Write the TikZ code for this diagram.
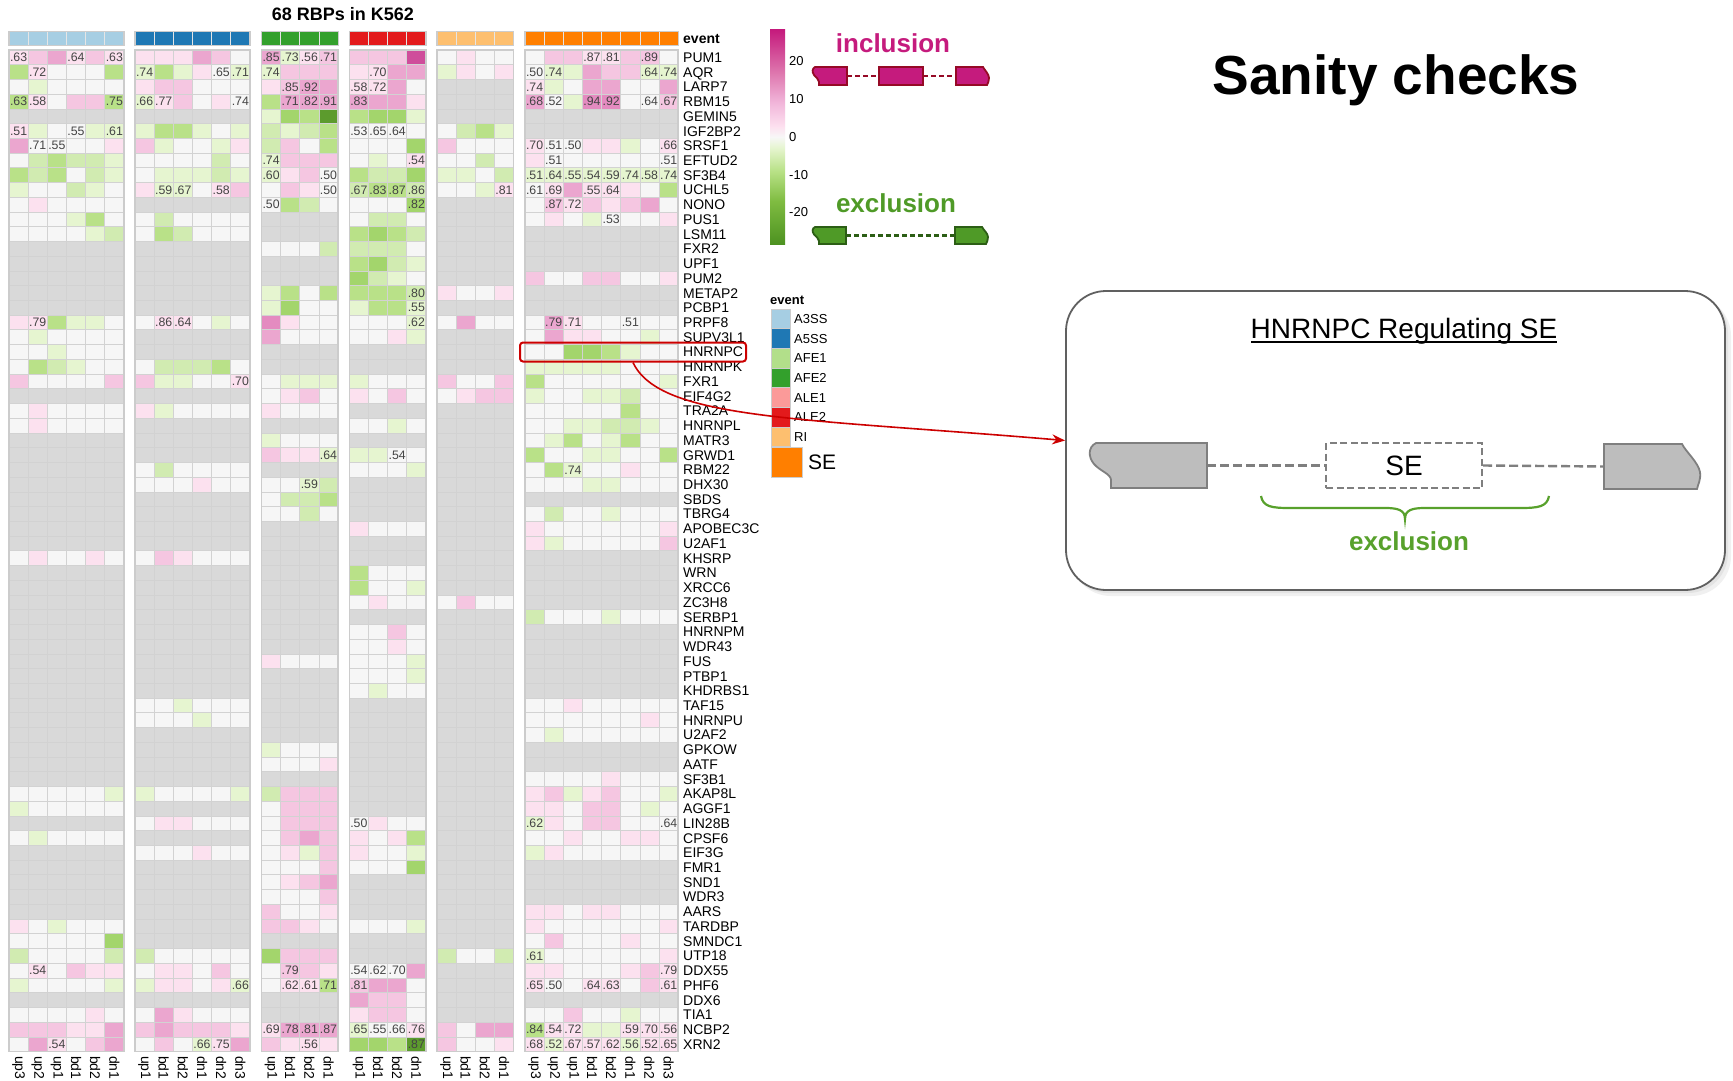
\documentclass[tikz,border=0pt]{standalone}
\usepackage{fontspec}
\setmainfont{Liberation Sans}
\usetikzlibrary{arrows.meta}

\definecolor{hmg}{HTML}{D9D9D9}
\definecolor{hmw}{HTML}{F6F6F6}
\definecolor{hma}{HTML}{FCE1EF}
\definecolor{hmb}{HTML}{F5C6E1}
\definecolor{hmc}{HTML}{EBA6CF}
\definecolor{hmC}{HTML}{E48BC0}
\definecolor{hmd}{HTML}{CF4D9B}
\definecolor{hme}{HTML}{E6F5D0}
\definecolor{hmf}{HTML}{D1EBB1}
\definecolor{hmh}{HTML}{B9E188}
\definecolor{hmk}{HTML}{A3D56C}
\definecolor{hmm}{HTML}{5C9B2D}
\definecolor{hmline}{HTML}{D2D2D2}
\definecolor{hmframe}{HTML}{CCCCCC}
\definecolor{numgray}{HTML}{444444}
\definecolor{cA3SS}{HTML}{A6CEE3}
\definecolor{cA5SS}{HTML}{1F78B4}
\definecolor{cAFE1}{HTML}{B2DF8A}
\definecolor{cAFE2}{HTML}{33A02C}
\definecolor{cALE1}{HTML}{FB9A99}
\definecolor{cALE2}{HTML}{E31A1C}
\definecolor{cRI}{HTML}{FDBF6F}
\definecolor{cSE}{HTML}{FF7F00}
\definecolor{incl}{HTML}{C51B7D}
\definecolor{incldark}{HTML}{960A26}
\definecolor{excl}{HTML}{4F9A27}
\definecolor{excldark}{HTML}{2C5E15}
\definecolor{exgreen}{HTML}{58A12C}
\definecolor{arrowred}{HTML}{CC0000}
\definecolor{exongray}{HTML}{BDBDBD}
\definecolor{exonline}{HTML}{7F7F7F}
\definecolor{pg0}{HTML}{4D9221}
\definecolor{pg1}{HTML}{7FBC41}
\definecolor{pg2}{HTML}{B8E186}
\definecolor{pg3}{HTML}{E6F5D0}
\definecolor{pg4}{HTML}{F7F7F7}
\definecolor{pg5}{HTML}{FDE0EF}
\definecolor{pg6}{HTML}{F1B6DA}
\definecolor{pg7}{HTML}{DE77AE}
\definecolor{pg8}{HTML}{C51B7D}
\pgfdeclareverticalshading{piyg}{100bp}{color(0bp)=(pg0); color(25bp)=(pg0); color(35bp)=(pg1); color(42bp)=(pg2); color(47.5bp)=(pg3); color(50bp)=(pg4); color(52.5bp)=(pg5); color(58bp)=(pg6); color(65bp)=(pg7); color(75bp)=(pg8); color(100bp)=(pg8)}

\newcommand\hmCW{19.15}
\newcommand\hmRH{14.73}
\newcommand\hmgrey[2]{%
  \foreach \rr in {0,...,67}{\foreach \kk in {1,...,#2}{%
    \path[fill=hmg, cellstyle] ({#1+(\kk-1)*\hmCW},{50+\rr*\hmRH}) rectangle ++(\hmCW,\hmRH);}}}
\newcommand\hmrow[3]{%
  \foreach \cc [count=\kk from 0] in {#3}{%
    \path[fill=hm\cc, cellstyle] ({#1+\kk*\hmCW},{50+#2*\hmRH}) rectangle ++(\hmCW,\hmRH);}}
\newcommand\hmframe[2]{%
  \draw[hmframe, line width=1.5pt] (#1,50) rectangle ({#1+#2*\hmCW},{50+68*\hmRH});}
\newcommand\hmheader[3]{%
  \foreach \kk in {1,...,#2}{%
    \path[fill=#3, draw=white!80!gray, line width=0.8pt] ({#1+(\kk-1)*\hmCW},31.5) rectangle ++(\hmCW,14.2);}
  \draw[hmframe, line width=1.2pt] (#1,31.5) rectangle ({#1+#2*\hmCW},45.7);}
\newcommand\hmcols[2]{%
  \foreach \tt [count=\kk from 0] in {#2}{%
    \node[collab] at ({#1+(\kk+0.5)*\hmCW},1056) {\tt};}}

\begin{document}
\begin{tikzpicture}[x=1pt,y=-1pt,
  cellstyle/.style={draw=hmline, line width=0.8pt},
  rowlab/.style={anchor=base west, inner sep=0pt, font=\fontsize{14}{16}\selectfont},
  collab/.style={anchor=west, rotate=-90, inner sep=0pt, font=\fontsize{14}{16}\selectfont},
  numlab/.style={anchor=base, inner sep=0pt, text=numgray, font=\fontsize{12.3}{13}\selectfont},
  legtxt/.style={anchor=west, inner sep=0pt, font=\fontsize{13}{15}\selectfont},
  swatch/.style={draw=hmframe, line width=1pt},
  exonshape/.style={fill=exongray, draw=exonline, line width=1.8pt},
  graydash/.style={draw=exonline, line width=2.4pt, dash pattern=on 9pt off 4pt},
]
\fill[white] (0,0) rectangle (1733,1081);
\useasboundingbox (0,0) rectangle (1733,1081);

% ---------------- title
\node[font=\bfseries\fontsize{18}{20}\selectfont, inner sep=0pt] (hmtitle) at (343,14) {68 RBPs in K562};

% ---------------- grey backgrounds
\hmgrey{9}{6}
\hmgrey{135}{6}
\hmgrey{261.5}{4}
\hmgrey{349.3}{4}
\hmgrey{437}{4}
\hmgrey{525}{8}

% ---------------- block 1 (A3SS)
\hmrow{9}{0}{a,b,c,a,b,a}
\hmrow{9}{1}{h,a,w,w,w,h}
\hmrow{9}{2}{w,e,w,w,w,w}
\hmrow{9}{3}{h,a,w,b,b,h}
\hmrow{9}{5}{a,e,w,w,e,e}
\hmrow{9}{6}{c,w,w,w,w,a}
\hmrow{9}{7}{w,f,h,f,f,e}
\hmrow{9}{8}{h,f,h,w,f,e}
\hmrow{9}{9}{e,w,w,f,e,w}
\hmrow{9}{10}{w,a,w,w,w,w}
\hmrow{9}{11}{w,w,w,e,h,w}
\hmrow{9}{12}{w,w,w,w,e,f}
\hmrow{9}{18}{a,a,h,e,e,w}
\hmrow{9}{19}{w,e,w,w,w,w}
\hmrow{9}{20}{w,w,e,w,w,w}
\hmrow{9}{21}{w,h,f,e,w,w}
\hmrow{9}{22}{b,w,w,w,w,b}
\hmrow{9}{24}{w,a,w,w,w,w}
\hmrow{9}{25}{w,a,w,w,w,w}
\hmrow{9}{34}{w,a,w,w,a,w}
\hmrow{9}{50}{w,w,w,w,w,e}
\hmrow{9}{51}{e,w,w,w,w,w}
\hmrow{9}{53}{w,e,w,w,w,w}
\hmrow{9}{59}{a,w,e,w,w,w}
\hmrow{9}{60}{w,w,w,w,w,k}
\hmrow{9}{61}{f,w,w,w,w,f}
\hmrow{9}{62}{w,a,w,b,a,a}
\hmrow{9}{63}{e,w,w,w,w,e}
\hmrow{9}{65}{w,w,w,w,a,w}
\hmrow{9}{66}{b,b,b,a,a,c}
\hmrow{9}{67}{w,c,a,w,b,c}

% ---------------- block 2 (A5SS)
\hmrow{135}{0}{a,a,a,c,b,w}
\hmrow{135}{1}{e,h,e,a,w,e}
\hmrow{135}{2}{a,b,b,w,w,w}
\hmrow{135}{3}{e,a,b,w,a,w}
\hmrow{135}{5}{e,h,h,e,w,e}
\hmrow{135}{6}{b,e,w,w,e,a}
\hmrow{135}{7}{w,w,w,w,f,w}
\hmrow{135}{8}{w,e,e,e,f,e}
\hmrow{135}{9}{a,e,e,w,a,b}
\hmrow{135}{11}{w,f,w,w,w,w}
\hmrow{135}{12}{w,h,f,w,w,w}
\hmrow{135}{18}{w,a,a,w,e,w}
\hmrow{135}{21}{w,f,f,f,h,w}
\hmrow{135}{22}{b,e,e,w,w,a}
\hmrow{135}{24}{a,e,w,w,w,w}
\hmrow{135}{28}{w,f,w,w,w,w}
\hmrow{135}{29}{w,w,w,a,w,w}
\hmrow{135}{34}{w,b,a,w,w,w}
\hmrow{135}{44}{w,w,e,w,w,w}
\hmrow{135}{45}{w,w,w,e,w,w}
\hmrow{135}{50}{e,w,w,w,w,e}
\hmrow{135}{52}{w,a,a,w,w,w}
\hmrow{135}{54}{w,w,w,a,w,w}
\hmrow{135}{61}{f,w,w,w,w,w}
\hmrow{135}{62}{w,a,a,w,b,w}
\hmrow{135}{63}{e,a,a,w,a,e}
\hmrow{135}{65}{w,c,a,w,w,w}
\hmrow{135}{66}{b,c,b,b,b,a}
\hmrow{135}{67}{w,b,w,e,a,c}

% ---------------- block 3 (AFE2)
\hmrow{261.5}{0}{c,e,a,b}
\hmrow{261.5}{1}{e,b,b,b}
\hmrow{261.5}{2}{a,b,c,c}
\hmrow{261.5}{3}{h,c,c,c}
\hmrow{261.5}{4}{e,k,h,m}
\hmrow{261.5}{5}{f,e,f,h}
\hmrow{261.5}{6}{f,b,w,h}
\hmrow{261.5}{7}{e,b,b,b}
\hmrow{261.5}{8}{e,a,b,w}
\hmrow{261.5}{9}{w,b,a,w}
\hmrow{261.5}{10}{w,h,f,w}
\hmrow{261.5}{13}{w,w,w,f}
\hmrow{261.5}{16}{e,h,w,h}
\hmrow{261.5}{17}{e,k,w,w}
\hmrow{261.5}{18}{C,a,w,w}
\hmrow{261.5}{19}{c,w,w,w}
\hmrow{261.5}{22}{w,e,e,e}
\hmrow{261.5}{23}{w,a,b,w}
\hmrow{261.5}{24}{a,w,w,w}
\hmrow{261.5}{26}{e,w,w,w}
\hmrow{261.5}{27}{b,a,a,e}
\hmrow{261.5}{29}{w,w,e,f}
\hmrow{261.5}{30}{w,f,f,h}
\hmrow{261.5}{31}{w,w,f,w}
\hmrow{261.5}{41}{a,w,w,w}
\hmrow{261.5}{47}{e,w,w,w}
\hmrow{261.5}{48}{w,w,w,a}
\hmrow{261.5}{50}{f,b,b,b}
\hmrow{261.5}{51}{w,b,b,b}
\hmrow{261.5}{52}{w,b,b,b}
\hmrow{261.5}{53}{w,b,c,b}
\hmrow{261.5}{54}{w,a,e,b}
\hmrow{261.5}{55}{w,w,w,b}
\hmrow{261.5}{56}{w,a,b,c}
\hmrow{261.5}{57}{w,w,w,b}
\hmrow{261.5}{58}{b,w,w,a}
\hmrow{261.5}{59}{b,b,a,w}
\hmrow{261.5}{61}{k,b,b,b}
\hmrow{261.5}{62}{w,b,b,a}
\hmrow{261.5}{63}{w,a,a,h}
\hmrow{261.5}{66}{a,c,c,c}
\hmrow{261.5}{67}{b,a,a,a}

% ---------------- block 4 (ALE2)
\hmrow{349.3}{0}{b,b,b,d}
\hmrow{349.3}{1}{a,a,c,c}
\hmrow{349.3}{2}{a,a,c,w}
\hmrow{349.3}{3}{c,c,c,a}
\hmrow{349.3}{4}{h,k,k,e}
\hmrow{349.3}{5}{w,w,w,w}
\hmrow{349.3}{6}{w,w,w,k}
\hmrow{349.3}{7}{w,e,w,a}
\hmrow{349.3}{8}{h,f,f,k}
\hmrow{349.3}{9}{f,h,h,f}
\hmrow{349.3}{10}{w,w,w,k}
\hmrow{349.3}{11}{w,f,f,w}
\hmrow{349.3}{12}{h,k,h,f}
\hmrow{349.3}{13}{f,f,f,w}
\hmrow{349.3}{14}{h,k,f,e}
\hmrow{349.3}{15}{k,f,e,w}
\hmrow{349.3}{16}{h,h,h,f}
\hmrow{349.3}{17}{e,h,h,e}
\hmrow{349.3}{18}{w,w,w,e}
\hmrow{349.3}{19}{w,w,a,e}
\hmrow{349.3}{22}{e,w,w,w}
\hmrow{349.3}{23}{a,w,b,w}
\hmrow{349.3}{25}{w,w,e,w}
\hmrow{349.3}{27}{e,e,w,w}
\hmrow{349.3}{28}{w,w,w,e}
\hmrow{349.3}{32}{a,w,w,w}
\hmrow{349.3}{35}{h,w,w,w}
\hmrow{349.3}{36}{h,w,w,e}
\hmrow{349.3}{37}{w,a,w,w}
\hmrow{349.3}{39}{w,w,b,w}
\hmrow{349.3}{40}{w,w,a,w}
\hmrow{349.3}{41}{w,w,w,e}
\hmrow{349.3}{42}{w,w,w,e}
\hmrow{349.3}{43}{w,e,w,w}
\hmrow{349.3}{52}{w,a,w,w}
\hmrow{349.3}{53}{a,w,a,h}
\hmrow{349.3}{54}{a,w,w,e}
\hmrow{349.3}{55}{w,w,w,k}
\hmrow{349.3}{59}{w,w,w,e}
\hmrow{349.3}{62}{w,w,w,c}
\hmrow{349.3}{63}{b,c,c,w}
\hmrow{349.3}{64}{c,b,b,w}
\hmrow{349.3}{65}{a,b,b,w}
\hmrow{349.3}{66}{e,w,w,a}
\hmrow{349.3}{67}{k,k,h,m}

% ---------------- block 5 (RI)
\hmrow{437}{0}{w,a,w,w}
\hmrow{437}{1}{e,a,w,a}
\hmrow{437}{5}{w,f,h,e}
\hmrow{437}{6}{b,w,w,w}
\hmrow{437}{7}{w,w,f,w}
\hmrow{437}{8}{e,e,w,f}
\hmrow{437}{9}{w,w,e,a}
\hmrow{437}{16}{a,w,w,a}
\hmrow{437}{18}{w,c,w,w}
\hmrow{437}{22}{b,w,w,b}
\hmrow{437}{23}{w,a,b,b}
\hmrow{437}{37}{w,b,w,w}
\hmrow{437}{61}{f,w,w,f}
\hmrow{437}{66}{b,w,c,c}
\hmrow{437}{67}{b,w,w,a}

% ---------------- block 6 (SE)
\hmrow{525}{0}{w,b,b,a,a,b,b,w}
\hmrow{525}{1}{w,e,e,c,b,b,e,e}
\hmrow{525}{2}{a,e,w,c,c,w,w,c}
\hmrow{525}{3}{c,w,e,C,C,w,w,b}
\hmrow{525}{6}{a,w,w,a,a,e,w,a}
\hmrow{525}{7}{a,w,w,w,w,w,w,w}
\hmrow{525}{8}{e,e,e,e,e,e,e,e}
\hmrow{525}{9}{w,a,c,a,a,a,w,h}
\hmrow{525}{10}{w,b,a,b,a,b,c,w}
\hmrow{525}{11}{w,a,w,e,w,w,w,a}
\hmrow{525}{15}{b,w,w,b,b,w,w,a}
\hmrow{525}{18}{w,c,a,w,w,w,w,w}
\hmrow{525}{19}{w,c,a,a,w,w,e,w}
\hmrow{525}{20}{w,w,k,k,h,e,w,w}
\hmrow{525}{21}{e,e,e,e,e,w,w,w}
\hmrow{525}{22}{h,w,w,w,w,w,w,e}
\hmrow{525}{23}{e,w,w,e,e,f,w,w}
\hmrow{525}{24}{w,w,w,w,w,h,w,w}
\hmrow{525}{25}{w,w,e,e,f,f,e,w}
\hmrow{525}{26}{w,e,h,w,e,h,w,w}
\hmrow{525}{27}{h,w,w,e,e,w,w,h}
\hmrow{525}{28}{w,h,e,w,w,a,w,w}
\hmrow{525}{29}{w,w,w,e,e,w,w,w}
\hmrow{525}{31}{w,f,w,w,e,w,w,w}
\hmrow{525}{32}{a,w,w,w,w,w,w,a}
\hmrow{525}{33}{a,e,w,w,w,w,w,b}
\hmrow{525}{38}{f,w,w,w,e,w,w,w}
\hmrow{525}{44}{w,w,a,w,w,w,w,w}
\hmrow{525}{45}{w,w,w,w,w,w,a,w}
\hmrow{525}{46}{w,e,w,w,w,w,w,w}
\hmrow{525}{49}{w,w,w,w,a,w,w,w}
\hmrow{525}{50}{a,b,e,a,b,w,w,e}
\hmrow{525}{51}{a,a,w,b,b,w,e,w}
\hmrow{525}{52}{e,a,w,b,b,w,w,w}
\hmrow{525}{53}{w,w,a,w,w,a,a,w}
\hmrow{525}{54}{e,a,w,w,w,w,w,w}
\hmrow{525}{58}{a,a,w,a,a,w,w,w}
\hmrow{525}{59}{a,w,w,w,w,w,w,a}
\hmrow{525}{60}{w,b,w,w,w,a,w,w}
\hmrow{525}{61}{e,w,w,w,w,w,w,a}
\hmrow{525}{62}{a,a,w,w,w,a,b,a}
\hmrow{525}{63}{a,w,w,a,a,w,b,a}
\hmrow{525}{65}{w,w,b,w,w,e,w,w}
\hmrow{525}{66}{h,a,a,e,e,a,a,a}
\hmrow{525}{67}{a,e,a,a,a,e,a,a}

% ---------------- frames and headers
\hmframe{9}{6}
\hmframe{135}{6}
\hmframe{261.5}{4}
\hmframe{349.3}{4}
\hmframe{437}{4}
\hmframe{525}{8}
\hmheader{9}{6}{cA3SS}
\hmheader{135}{6}{cA5SS}
\hmheader{261.5}{4}{cAFE2}
\hmheader{349.3}{4}{cALE2}
\hmheader{437}{4}{cRI}
\hmheader{525}{8}{cSE}

% ---------------- numbers in cells
\foreach \bx/\r/\k/\t in {
 9/0/0/.63, 9/0/3/.64, 9/0/5/.63, 9/1/1/.72, 9/3/0/.63, 9/3/1/.58, 9/3/5/.75,
 9/5/0/.51, 9/5/3/.55, 9/5/5/.61, 9/6/1/.71, 9/6/2/.55, 9/18/1/.79, 9/62/1/.54, 9/67/2/.54,
 135/1/0/.74, 135/1/4/.65, 135/1/5/.71, 135/3/0/.66, 135/3/1/.77, 135/3/5/.74,
 135/9/1/.59, 135/9/2/.67, 135/9/4/.58, 135/18/1/.86, 135/18/2/.64, 135/22/5/.70,
 135/63/5/.66, 135/67/3/.66, 135/67/4/.75,
 261.5/0/0/.85, 261.5/0/1/.73, 261.5/0/2/.56, 261.5/0/3/.71, 261.5/1/0/.74,
 261.5/2/1/.85, 261.5/2/2/.92, 261.5/3/1/.71, 261.5/3/2/.82, 261.5/3/3/.91,
 261.5/7/0/.74, 261.5/8/0/.60, 261.5/8/3/.50, 261.5/9/3/.50, 261.5/10/0/.50,
 261.5/27/3/.64, 261.5/29/2/.59, 261.5/62/1/.79, 261.5/63/1/.62, 261.5/63/2/.61, 261.5/63/3/.71,
 261.5/66/0/.69, 261.5/66/1/.78, 261.5/66/2/.81, 261.5/66/3/.87, 261.5/67/2/.56,
 349.3/1/1/.70, 349.3/2/0/.58, 349.3/2/1/.72, 349.3/3/0/.83,
 349.3/5/0/.53, 349.3/5/1/.65, 349.3/5/2/.64, 349.3/7/3/.54,
 349.3/9/0/.67, 349.3/9/1/.83, 349.3/9/2/.87, 349.3/9/3/.86, 349.3/10/3/.82,
 349.3/16/3/.80, 349.3/17/3/.55, 349.3/18/3/.62, 349.3/27/2/.54, 349.3/52/0/.50,
 349.3/62/0/.54, 349.3/62/1/.62, 349.3/62/2/.70, 349.3/63/0/.81,
 349.3/66/0/.65, 349.3/66/1/.55, 349.3/66/2/.66, 349.3/66/3/.76, 349.3/67/3/.87,
 437/9/3/.81,
 525/0/3/.87, 525/0/4/.81, 525/0/6/.89,
 525/1/0/.50, 525/1/1/.74, 525/1/6/.64, 525/1/7/.74, 525/2/0/.74,
 525/3/0/.68, 525/3/1/.52, 525/3/3/.94, 525/3/4/.92, 525/3/6/.64, 525/3/7/.67,
 525/6/0/.70, 525/6/1/.51, 525/6/2/.50, 525/6/7/.66, 525/7/1/.51, 525/7/7/.51,
 525/8/0/.51, 525/8/1/.64, 525/8/2/.55, 525/8/3/.54, 525/8/4/.59, 525/8/5/.74, 525/8/6/.58, 525/8/7/.74,
 525/9/0/.61, 525/9/1/.69, 525/9/3/.55, 525/9/4/.64, 525/10/1/.87, 525/10/2/.72, 525/11/4/.53,
 525/18/1/.79, 525/18/2/.71, 525/18/5/.51, 525/28/2/.74, 525/52/0/.62, 525/52/7/.64,
 525/61/0/.61, 525/62/7/.79,
 525/63/0/.65, 525/63/1/.50, 525/63/3/.64, 525/63/4/.63, 525/63/7/.61,
 525/66/0/.84, 525/66/1/.54, 525/66/2/.72, 525/66/5/.59, 525/66/6/.70, 525/66/7/.56,
 525/67/0/.68, 525/67/1/.52, 525/67/2/.67, 525/67/3/.57, 525/67/4/.62, 525/67/5/.56, 525/67/6/.52, 525/67/7/.65}
 {\node[numlab] at ({\bx+(\k+0.5)*\hmCW},{50+(\r+0.5)*\hmRH+4.2}) {\t};}

% ---------------- row labels
\node[anchor=base west, inner sep=0pt, font=\bfseries\fontsize{14}{16}\selectfont] (evtop) at (683,43.5) {event};
\foreach \nm [count=\r from 0] in {PUM1,AQR,LARP7,RBM15,GEMIN5,IGF2BP2,SRSF1,EFTUD2,SF3B4,UCHL5,NONO,PUS1,LSM11,FXR2,UPF1,PUM2,METAP2,PCBP1,PRPF8,SUPV3L1,HNRNPC,HNRNPK,FXR1,EIF4G2,TRA2A,HNRNPL,MATR3,GRWD1,RBM22,DHX30,SBDS,TBRG4,APOBEC3C,U2AF1,KHSRP,WRN,XRCC6,ZC3H8,SERBP1,HNRNPM,WDR43,FUS,PTBP1,KHDRBS1,TAF15,HNRNPU,U2AF2,GPKOW,AATF,SF3B1,AKAP8L,AGGF1,LIN28B,CPSF6,EIF3G,FMR1,SND1,WDR3,AARS,TARDBP,SMNDC1,UTP18,DDX55,PHF6,DDX6,TIA1,NCBP2,XRN2}
 {\node[rowlab] at (683,{50+(\r+0.5)*\hmRH+5}) {\nm};}

% ---------------- column labels
\hmcols{9}{up3,up2,up1,bd1,bd2,dn1}
\hmcols{135}{up1,bd1,bd2,dn1,dn2,dn3}
\hmcols{261.5}{up1,bd1,bd2,dn1}
\hmcols{349.3}{up1,bd1,bd2,dn1}
\hmcols{437}{up1,bd1,bd2,dn1}
\hmcols{525}{up3,up2,up1,bd1,bd2,dn1,dn2,dn3}

% ---------------- colour scale
\shade[shading=piyg] (770,30) rectangle (785,244);
\foreach \v/\yy in {20/61.5,10/99.5,0/137,-10/175,-20/212.5}
 {\node[legtxt] at (789,\yy) {\v};}

% inclusion legend
\node[text=incl, font=\bfseries\fontsize{26}{28}\selectfont, inner sep=0pt] (incltxt) at (893,43) {inclusion};
\draw[incldark, line width=2.5pt, dash pattern=on 5pt off 3pt] (847,76) -- (879,76) (923,76) -- (956,76);
\path[fill=incl, draw=incldark, line width=1.8pt] (815,67) -- (847,67) -- (847,85) -- (819,85) -- (819,82) .. controls (819,79) and (816,78) .. (814,75) .. controls (812,72) and (812,68.5) .. cycle;
\path[fill=incl, draw=incldark, line width=1.8pt] (879,67) rectangle (923,85);
\path[fill=incl, draw=incldark, line width=1.8pt] (956,67) -- (983,67) .. controls (984.5,70) and (989,74) .. (989,78) .. controls (989,81) and (988,83) .. (987,85) -- (956,85) -- cycle;

% exclusion legend
\node[text=excl, font=\bfseries\fontsize{26}{28}\selectfont, inner sep=0pt] (excltxt) at (896,203) {exclusion};
\draw[excldark, line width=2.5pt, dash pattern=on 5pt off 3pt] (846,235.5) -- (955,235.5);
\path[fill=excl, draw=excldark, line width=1.8pt] (815,227) -- (846,227) -- (846,244) -- (819,244) -- (819,241) .. controls (819,238) and (816,237) .. (814,234.5) .. controls (812,231.5) and (812,228.5) .. cycle;
\path[fill=excl, draw=excldark, line width=1.8pt] (955,227) -- (982,227) .. controls (983.5,230) and (988,233.5) .. (988,237) .. controls (988,240) and (987,242) .. (986,244) -- (955,244) -- cycle;

% event legend
\node[anchor=west, inner sep=0pt, font=\bfseries\fontsize{13}{15}\selectfont] (evleg) at (770,300) {event};
\foreach \c/\t [count=\i from 0] in {cA3SS/A3SS,cA5SS/A5SS,cAFE1/AFE1,cAFE2/AFE2,cALE1/ALE1,cALE2/ALE2,cRI/RI}
 {\path[fill=\c, swatch] (771,{309+\i*19.7}) rectangle (790,{309+(\i+1)*19.7});
  \node[legtxt] at (794,{309+(\i+0.5)*19.7}) {\t};}
\path[fill=cSE, swatch] (771,447) rectangle (802,477);
\node[anchor=west, inner sep=0pt, font=\fontsize{21}{23}\selectfont] (seleg) at (808,462) {SE};

% ---------------- sanity checks title
\node[anchor=base, inner sep=0pt, font=\bfseries\fontsize{55}{60}\selectfont] (sanity) at (1396,95) {Sanity checks};

% ---------------- HNRNPC box
\fill[gray!12, rounded corners=40pt] (1071,296) rectangle (1731,596);
\fill[gray!22, rounded corners=40pt] (1068,293) rectangle (1728,593);
\node[draw=gray!75!black, fill=white, line width=1.8pt, rounded corners=40pt, minimum width=659pt, minimum height=299pt, inner sep=0pt] (box) at (1395.5,440.5) {};
\node[anchor=base, inner sep=0pt, font=\fontsize{28}{30}\selectfont] (boxtitle) at (1404,338) {HNRNPC Regulating SE};
\draw[line width=2pt] (1251,342) -- (1557,342);

\coordinate (exL) at (1207,465.5);
\coordinate (exR) at (1604,466.5);
\path[exonshape] (1096,443) -- (1207,443) -- (1207,488) -- (1111,488) -- (1111,480) .. controls (1111,474) and (1100,471) .. (1094,464) .. controls (1088,457) and (1088,447) .. cycle;
\path[exonshape] (1604,444) -- (1682,444) .. controls (1686,452) and (1698,462) .. (1700,472) .. controls (1701,480) and (1698,484) .. (1697,489) -- (1604,489) -- cycle;
\node[draw=exonline, dash pattern=on 7pt off 3.5pt, line width=2pt, fill=white, minimum width=156pt, minimum height=45pt, inner sep=0pt, font=\fontsize{28}{30}\selectfont] (se) at (1404,465.5) {SE};
\draw[graydash] (exL) -- (se.west);
\draw[graydash] (se.east) -- (exR);
\draw[exgreen, line width=2.2pt] (1261,496) .. controls (1263,507) and (1272,508) .. (1290,508) -- (1385,508) .. controls (1398,508) and (1405,510) .. (1405,519) .. controls (1405,510) and (1412,508) .. (1425,508) -- (1520,508) .. controls (1538,508) and (1547,507) .. (1549,496);
\node[text=exgreen, font=\bfseries\fontsize{26}{28}\selectfont, inner sep=0pt] (boxexcl) at (1409,541) {exclusion};

% ---------------- highlight and arrow
\node[draw=arrowred, line width=2pt, rounded corners=3pt, minimum width=226pt, minimum height=19pt, inner sep=0pt] (hl) at (633,352) {};
\draw[arrowred, line width=1.6pt, -{Stealth[length=13pt,width=10pt]}] (hl.south) .. controls (660,420) and (800,418) .. (box.west);

\end{tikzpicture}
\end{document}
